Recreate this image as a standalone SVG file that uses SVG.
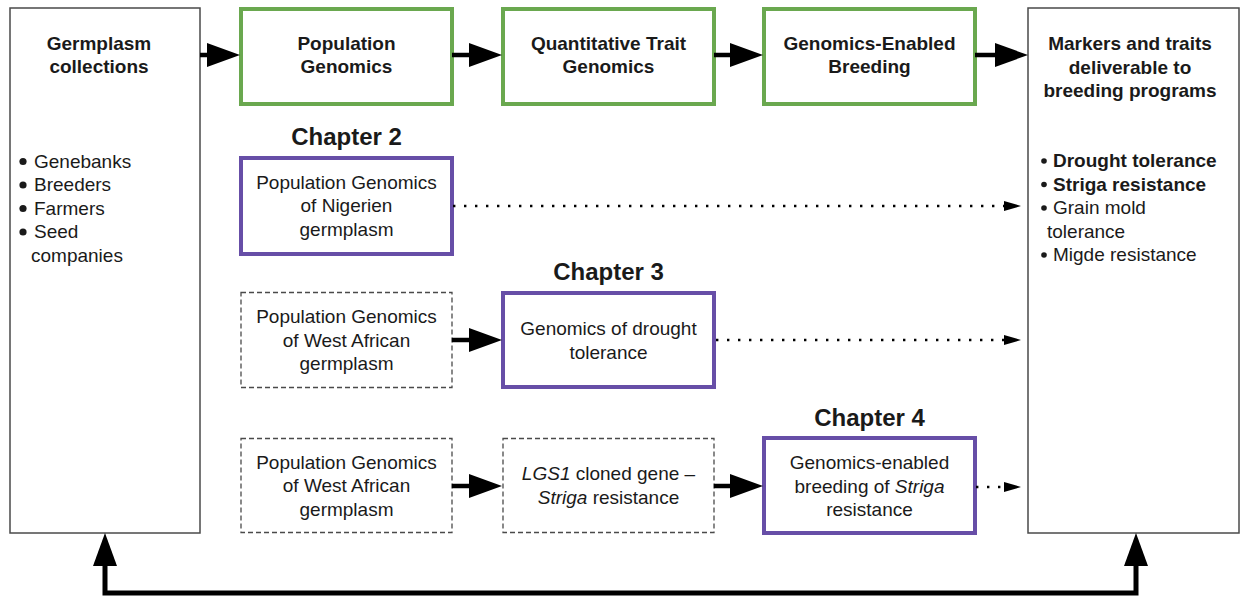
<svg xmlns="http://www.w3.org/2000/svg" width="1241" height="597" viewBox="0 0 1241 597">
<style>
text{font-family:"Liberation Sans",Arial,sans-serif;fill:#1a1a1a;text-anchor:middle}
.n{font-size:19px}
.b{font-size:19px;font-weight:bold}
.ch{font-size:24px;font-weight:bold}
.l{text-anchor:start}
.side{fill:#fff;stroke:#4a4a4a;stroke-width:1.5}
.green{fill:#fff;stroke:#6aa84f;stroke-width:4}
.purple{fill:#fff;stroke:#674ea7;stroke-width:4}
.dash{fill:#fff;stroke:#4a4a4a;stroke-width:1.3;stroke-dasharray:5 3}
.thick{fill:none;stroke:#000;stroke-width:4.5;marker-end:url(#big)}
.dot{fill:none;stroke:#000;stroke-width:2.4;stroke-dasharray:2.4 8.6;marker-end:url(#small)}
.bul{fill:#1a1a1a}
</style>
<defs>
<marker id="big" markerUnits="userSpaceOnUse" markerWidth="34" markerHeight="26" refX="5" refY="12" orient="auto-start-reverse" overflow="visible">
<path d="M0,0 L33,12 L0,24 z" fill="#000"/>
</marker>
<marker id="small" markerUnits="userSpaceOnUse" markerWidth="18" markerHeight="11" refX="0" refY="5" orient="auto" overflow="visible">
<path d="M0,0 L17,5 L0,10 z" fill="#000"/>
</marker>
</defs>
<rect width="1241" height="597" fill="#fff"/>

<g id="germplasm">
<rect class="side" x="10" y="8" width="190" height="525"/>
<text class="b" x="99" y="50">Germplasm</text>
<text class="b" x="99" y="73">collections</text>
<circle class="bul" cx="23" cy="161.5" r="3.6"/>
<circle class="bul" cx="23" cy="185" r="3.6"/>
<circle class="bul" cx="23" cy="208.5" r="3.6"/>
<circle class="bul" cx="23" cy="232" r="3.6"/>
<text class="n l" x="34" y="167.5">Genebanks</text>
<text class="n l" x="34" y="191">Breeders</text>
<text class="n l" x="34" y="214.5">Farmers</text>
<text class="n l" x="34" y="238">Seed</text>
<text class="n l" x="31" y="261.5">companies</text>
</g>

<g id="markers">
<rect class="side" x="1028" y="8" width="211" height="525"/>
<text class="b" x="1130" y="50">Markers and traits</text>
<text class="b" x="1130" y="74">deliverable to</text>
<text class="b" x="1130" y="97">breeding programs</text>
<circle class="bul" cx="1044" cy="161" r="2.8"/>
<circle class="bul" cx="1044" cy="184.5" r="2.8"/>
<circle class="bul" cx="1044" cy="208" r="2.8"/>
<circle class="bul" cx="1044" cy="255" r="2.8"/>
<text class="b l" x="1053" y="167">Drought tolerance</text>
<text class="b l" x="1053" y="190.5">Striga resistance</text>
<text class="n l" x="1053" y="214">Grain mold</text>
<text class="n l" x="1047" y="237.5">tolerance</text>
<text class="n l" x="1053" y="261">Migde resistance</text>
</g>

<g id="popgen">
<rect class="green" x="241" y="9" width="211" height="95"/>
<text class="b" x="346.5" y="50">Population</text>
<text class="b" x="346.5" y="73">Genomics</text>
</g>
<g id="qtg">
<rect class="green" x="503" y="9" width="211" height="95"/>
<text class="b" x="608.5" y="50">Quantitative Trait</text>
<text class="b" x="608.5" y="73">Genomics</text>
</g>
<g id="geb">
<rect class="green" x="764" y="9" width="211" height="95"/>
<text class="b" x="869.5" y="50">Genomics-Enabled</text>
<text class="b" x="869.5" y="73">Breeding</text>
</g>

<g id="chapter2">
<text class="ch" x="346.5" y="145">Chapter 2</text>
<rect class="purple" x="241" y="158" width="211" height="96"/>
<text class="n" x="346.5" y="188.5">Population Genomics</text>
<text class="n" x="346.5" y="212">of Nigerien</text>
<text class="n" x="346.5" y="235.5">germplasm</text>
</g>

<g id="wa1">
<rect class="dash" x="241" y="292.5" width="211" height="95"/>
<text class="n" x="346.5" y="323">Population Genomics</text>
<text class="n" x="346.5" y="346.5">of West African</text>
<text class="n" x="346.5" y="370">germplasm</text>
</g>

<g id="chapter3">
<text class="ch" x="608.5" y="279.5">Chapter 3</text>
<rect class="purple" x="503" y="293" width="211" height="94"/>
<text class="n" x="608.5" y="335">Genomics of drought</text>
<text class="n" x="608.5" y="358.5">tolerance</text>
</g>

<g id="wa2">
<rect class="dash" x="241" y="438.5" width="211" height="94"/>
<text class="n" x="346.5" y="468.5">Population Genomics</text>
<text class="n" x="346.5" y="492">of West African</text>
<text class="n" x="346.5" y="515.5">germplasm</text>
</g>

<g id="lgs1">
<rect class="dash" x="503" y="438.5" width="211" height="94"/>
<text class="n" x="608.5" y="480"><tspan font-style="italic">LGS1</tspan> cloned gene –</text>
<text class="n" x="608.5" y="503.5"><tspan font-style="italic">Striga</tspan> resistance</text>
</g>

<g id="chapter4">
<text class="ch" x="869.5" y="426">Chapter 4</text>
<rect class="purple" x="764" y="438" width="211" height="95"/>
<text class="n" x="869.5" y="469">Genomics-enabled</text>
<text class="n" x="869.5" y="492.5">breeding of <tspan font-style="italic">Striga</tspan></text>
<text class="n" x="869.5" y="516">resistance</text>
</g>

<g id="connectors">
<line class="thick" x1="200" y1="55" x2="212" y2="55"/>
<line class="thick" x1="452" y1="55" x2="474" y2="55"/>
<line class="thick" x1="714" y1="55" x2="735" y2="55"/>
<line class="thick" x1="975" y1="55" x2="1000" y2="55"/>
<line class="thick" x1="452" y1="340" x2="474" y2="340"/>
<line class="thick" x1="452" y1="486" x2="474" y2="486"/>
<line class="thick" x1="714" y1="486" x2="735" y2="486"/>
<path d="M105,561 V593 H1136 V561" fill="none" stroke="#000" stroke-width="5" stroke-linejoin="miter" marker-start="url(#big)" marker-end="url(#big)"/>
<line class="dot" x1="453" y1="206" x2="1004" y2="206"/>
<line class="dot" x1="716" y1="340" x2="1004" y2="340"/>
<line class="dot" x1="976" y1="487" x2="1004" y2="487"/>
</g>
</svg>
